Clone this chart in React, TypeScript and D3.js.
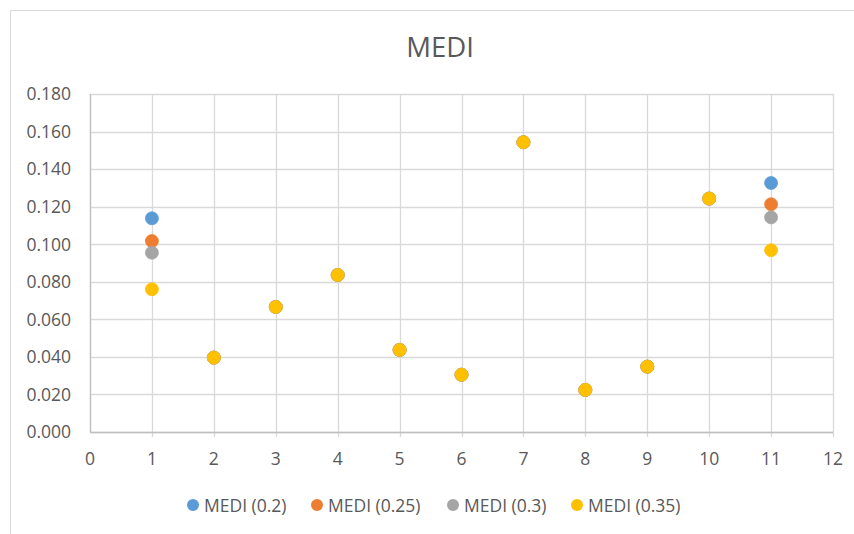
import React from "react";
import * as d3 from "d3";

const xCategories = [1, 2, 3, 4, 5, 6, 7, 8, 9, 10, 11];
const seriesNames = ["MEDI (0.2)", "MEDI (0.25)", "MEDI (0.3)", "MEDI (0.35)"];
const seriesColors = ["#5B9BD5", "#ED7D31", "#A5A5A5", "#FFC000"];
const medi020 = [0.1138, 0.0396, 0.0666, 0.0836, 0.0437, 0.0305, 0.1543, 0.0224, 0.0348, 0.1243, 0.1326];
const medi025 = [0.1017, 0.0396, 0.0666, 0.0836, 0.0437, 0.0305, 0.1543, 0.0224, 0.0348, 0.1243, 0.1213];
const medi030 = [0.0955, 0.0396, 0.0666, 0.0836, 0.0437, 0.0305, 0.1543, 0.0224, 0.0348, 0.1243, 0.1143];
const medi035 = [0.0760, 0.0396, 0.0666, 0.0836, 0.0437, 0.0305, 0.1543, 0.0224, 0.0348, 0.1243, 0.0968];
const xTicks = [0, 1, 2, 3, 4, 5, 6, 7, 8, 9, 10, 11, 12];
const yTicks = [0, 0.02, 0.04, 0.06, 0.08, 0.1, 0.12, 0.14, 0.16, 0.18];
const title = "MEDI";

const W = 854;
const H = 534;
const FONT = "'Open Sans', 'Noto Sans', sans-serif";
const TEXT = "#595959";

export default function App() {
  const x = d3.scaleLinear().domain([0, 12]).range([90, 833]);
  const y = d3.scaleLinear().domain([0, 0.18]).range([432, 94]);
  const fmt = d3.format(".3f");
  const all = [medi020, medi025, medi030, medi035];
  const legendX = [193, 317, 453, 577];

  return (
    <div style={{ position: "absolute", left: 0, top: 0 }}>
      <svg width={W} height={H} style={{ display: "block", background: "#fff" }}>
        <rect x={10.5} y={10.5} width={W} height={H} fill="#fff" stroke="#d9d9d9" strokeWidth={1} />
        <text x={440} y={57} textAnchor="middle" fontFamily={FONT} fontSize={27.5} fill={TEXT}>
          {title}
        </text>
        {yTicks.map((t) => (
          <line key={"gy" + t} x1={x(0)} x2={x(12)} y1={Math.round(y(t)) + 0.5} y2={Math.round(y(t)) + 0.5} stroke="#d9d9d9" strokeWidth={1.3} />
        ))}
        {xTicks.map((t) => (
          <line key={"gx" + t} x1={Math.round(x(t)) + 0.5} x2={Math.round(x(t)) + 0.5} y1={y(0.18)} y2={y(0) + (t === 0 ? 0 : 5)} stroke="#d9d9d9" strokeWidth={1.3} />
        ))}
        <line x1={x(0)} x2={x(12)} y1={Math.round(y(0)) + 0.5} y2={Math.round(y(0)) + 0.5} stroke="#bfbfbf" strokeWidth={1.3} />
        <line x1={Math.round(x(0)) + 0.5} x2={Math.round(x(0)) + 0.5} y1={y(0.18)} y2={y(0)} stroke="#bfbfbf" strokeWidth={1.3} />
        {yTicks.map((t) => (
          <text key={"ly" + t} x={71} y={y(t) + 6.3} textAnchor="end" fontFamily={FONT} fontSize={17.5} fill={TEXT}>
            {fmt(t)}
          </text>
        ))}
        {xTicks.map((t) => (
          <text key={"lx" + t} x={x(t)} y={464.5} textAnchor="middle" fontFamily={FONT} fontSize={17.5} fill={TEXT}>
            {t}
          </text>
        ))}
        {all.map((vals, si) => (
          <g key={"s" + si}>
            {vals.map((v, i) => (
              <circle key={i} cx={x(xCategories[i])} cy={y(v)} r={6.5} fill={seriesColors[si]} stroke={seriesColors[si]} strokeWidth={0.75} />
            ))}
          </g>
        ))}
        {seriesNames.map((n, i) => (
          <g key={"lg" + i}>
            <circle cx={legendX[i]} cy={505} r={6} fill={seriesColors[i]} />
            <text x={legendX[i] + 11} y={511.5} fontFamily={FONT} fontSize={17.5} fill={TEXT}>
              {n}
            </text>
          </g>
        ))}
      </svg>
    </div>
  );
}
